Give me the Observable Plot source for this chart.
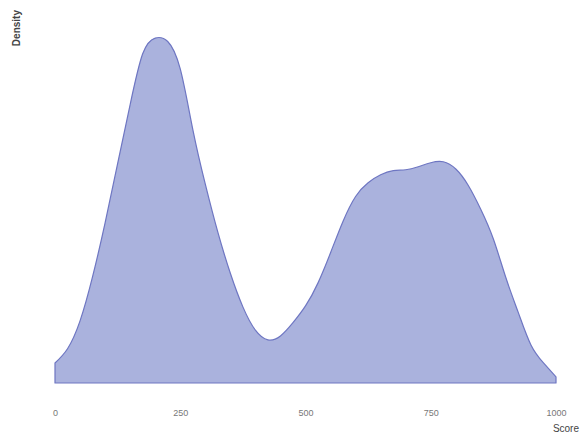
<!DOCTYPE html>
<html>
<head>
<meta charset="utf-8">
<script src="https://cdn.jsdelivr.net/npm/d3@7"></script>
<script src="https://cdn.jsdelivr.net/npm/@observablehq/plot@0.6"></script>
<style>
  html, body { margin: 0; padding: 0; background: #fff; }
  #chart { width: 580px; height: 435px; }
  svg { font-family: "Liberation Sans", Arial, sans-serif; }
</style>
</head>
<body>
<div id="chart"></div>
<script>
// Score values (x) and estimated density (y)
const scores = [0, 25, 50, 75, 100, 125, 150, 175, 200, 225, 250, 275, 300, 325, 350, 375, 400, 425, 450, 475, 500, 525, 550, 575, 600, 625, 650, 675, 700, 725, 750, 775, 800, 825, 850, 875, 900, 925, 950, 975, 1000];
const densities = [0.000146, 0.000250, 0.000453, 0.000775, 0.001168, 0.001600, 0.002030, 0.002400, 0.002515, 0.002490, 0.002290, 0.001850, 0.001450, 0.001100, 0.000800, 0.000555, 0.000385, 0.000314, 0.000343, 0.000440, 0.000562, 0.000730, 0.000950, 0.001180, 0.001360, 0.001460, 0.001518, 0.001548, 0.001555, 0.001577, 0.001606, 0.001613, 0.001560, 0.001440, 0.001265, 0.001050, 0.000767, 0.000511, 0.000277, 0.000146, 0.000044];
const xTicks = [0, 250, 500, 750, 1000];
const xLabel = "Score";
const yLabel = "Density";

const data = scores.map((s, i) => ({score: s, density: densities[i]}));

const W = 580, H = 435;
const chart = Plot.plot({
  width: W,
  height: H,
  marginLeft: 55,
  marginRight: 24,
  marginTop: 36,
  marginBottom: 52,
  style: {background: "#fff", fontFamily: "Liberation Sans, Arial, sans-serif"},
  x: {domain: [0, 1000], label: null},
  y: {domain: [0, 0.00253], axis: null},
  marks: [
    Plot.areaY(data, {
      x: "score", y: "density", curve: "natural",
      fill: "#aab2dd", stroke: "#6e76c2", strokeWidth: 1.2
    }),
    Plot.axisX({ticks: xTicks, tickFormat: d => String(d), tickSize: 0, tickPadding: 26, fontSize: 9, fill: "#777", label: null})
  ]
});
document.getElementById("chart").appendChild(chart);

const svg = d3.select(chart);
svg.append("text")
  .attr("x", W - 1).attr("y", 432)
  .attr("text-anchor", "end")
  .attr("font-size", 10)
  .attr("fill", "#444")
  .text(xLabel);
svg.append("text")
  .attr("transform", "translate(20,10) rotate(-90)")
  .attr("text-anchor", "end")
  .attr("font-size", 10)
  .attr("font-weight", "bold")
  .attr("fill", "#444")
  .text(yLabel);
</script>
</body>
</html>
